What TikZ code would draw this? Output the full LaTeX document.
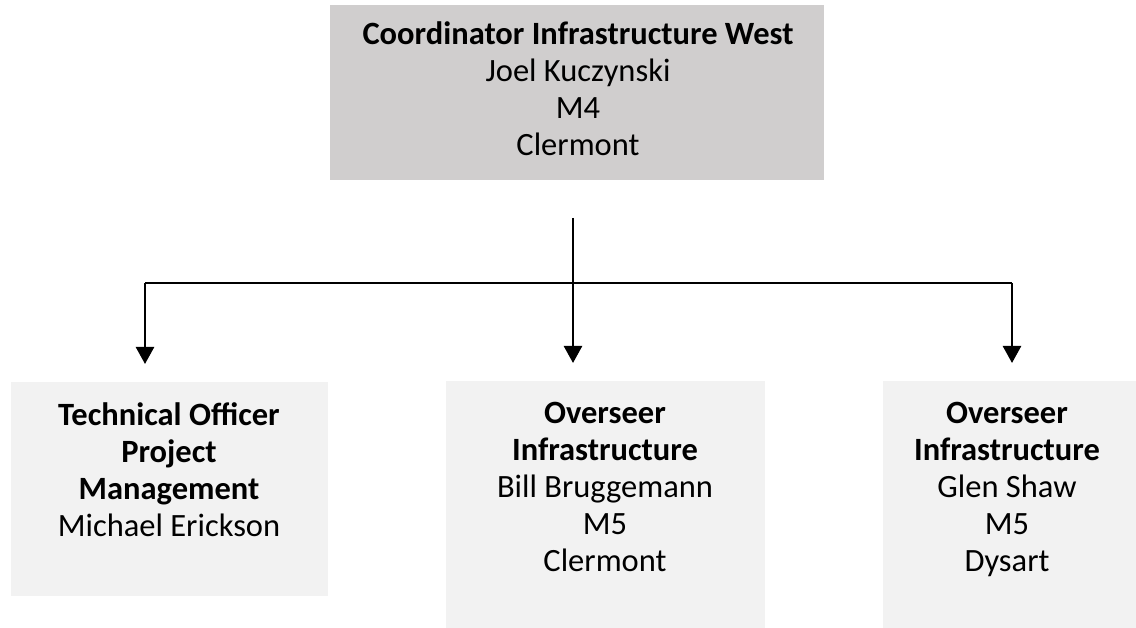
\documentclass[tikz,border=0pt]{standalone}
\usepackage{fontspec}
\setmainfont{Carlito}
\usetikzlibrary{arrows.meta,calc}
\definecolor{headgray}{HTML}{D0CECE}
\definecolor{unitgray}{HTML}{F2F2F2}
\begin{document}
\begin{tikzpicture}[x=1pt,y=-1pt,
  box/.style={draw=none,inner sep=0pt,outer sep=0pt,anchor=north west},
  headbox/.style={box,fill=headgray},
  unitbox/.style={box,fill=unitgray},
  lbl/.style={anchor=north,inner sep=0pt,align=center,
    font=\fontsize{32.5}{37}\selectfont},
  bus/.style={line width=1.6pt,black},
  arr/.style={line width=2.5pt,black,-{Triangle[width=18pt,length=17pt]},shorten >=18pt}]
\useasboundingbox (0,0) rectangle (1136,628);
\fill[white] (0,0) rectangle (1136,628);

% boxes
\node[headbox,minimum width=494pt,minimum height=175pt] (head) at (330,5) {};
\node[unitbox,minimum width=317pt,minimum height=214pt] (tech) at (11,382) {};
\node[unitbox,minimum width=319pt,minimum height=247pt] (ovw) at (446,381) {};
\node[unitbox,minimum width=253pt,minimum height=247pt] (ove) at (883,381) {};

% texts
\node[lbl] (headtxt) at (578,21) {\textbf{Coordinator Infrastructure West}\\Joel Kuczynski\\M4\\Clermont};
\node[lbl] (techtxt) at (169,402) {\textbf{Technical Officer}\\\textbf{Project}\\\textbf{Management}\\Michael Erickson};
\node[lbl] (ovwtxt) at (605,402) {\textbf{Overseer}\\\textbf{Infrastructure}\\Bill Bruggemann\\M5\\Clermont};
\node[lbl] (ovetxt) at (1007,402) {\textbf{Overseer}\\\textbf{Infrastructure}\\Glen Shaw\\M5\\Dysart};

% connectors
\coordinate (trunk) at (573,218);
\coordinate (busL) at (145,283);
\coordinate (busR) at (1012,283);
\draw[bus] (busL) -- (busR);
\draw[arr] (trunk) -- (trunk |- ovw.north);
\draw[arr] (busL) -- (busL |- tech.north);
\draw[arr] (busR) -- (busR |- ove.north);
\end{tikzpicture}
\end{document}
